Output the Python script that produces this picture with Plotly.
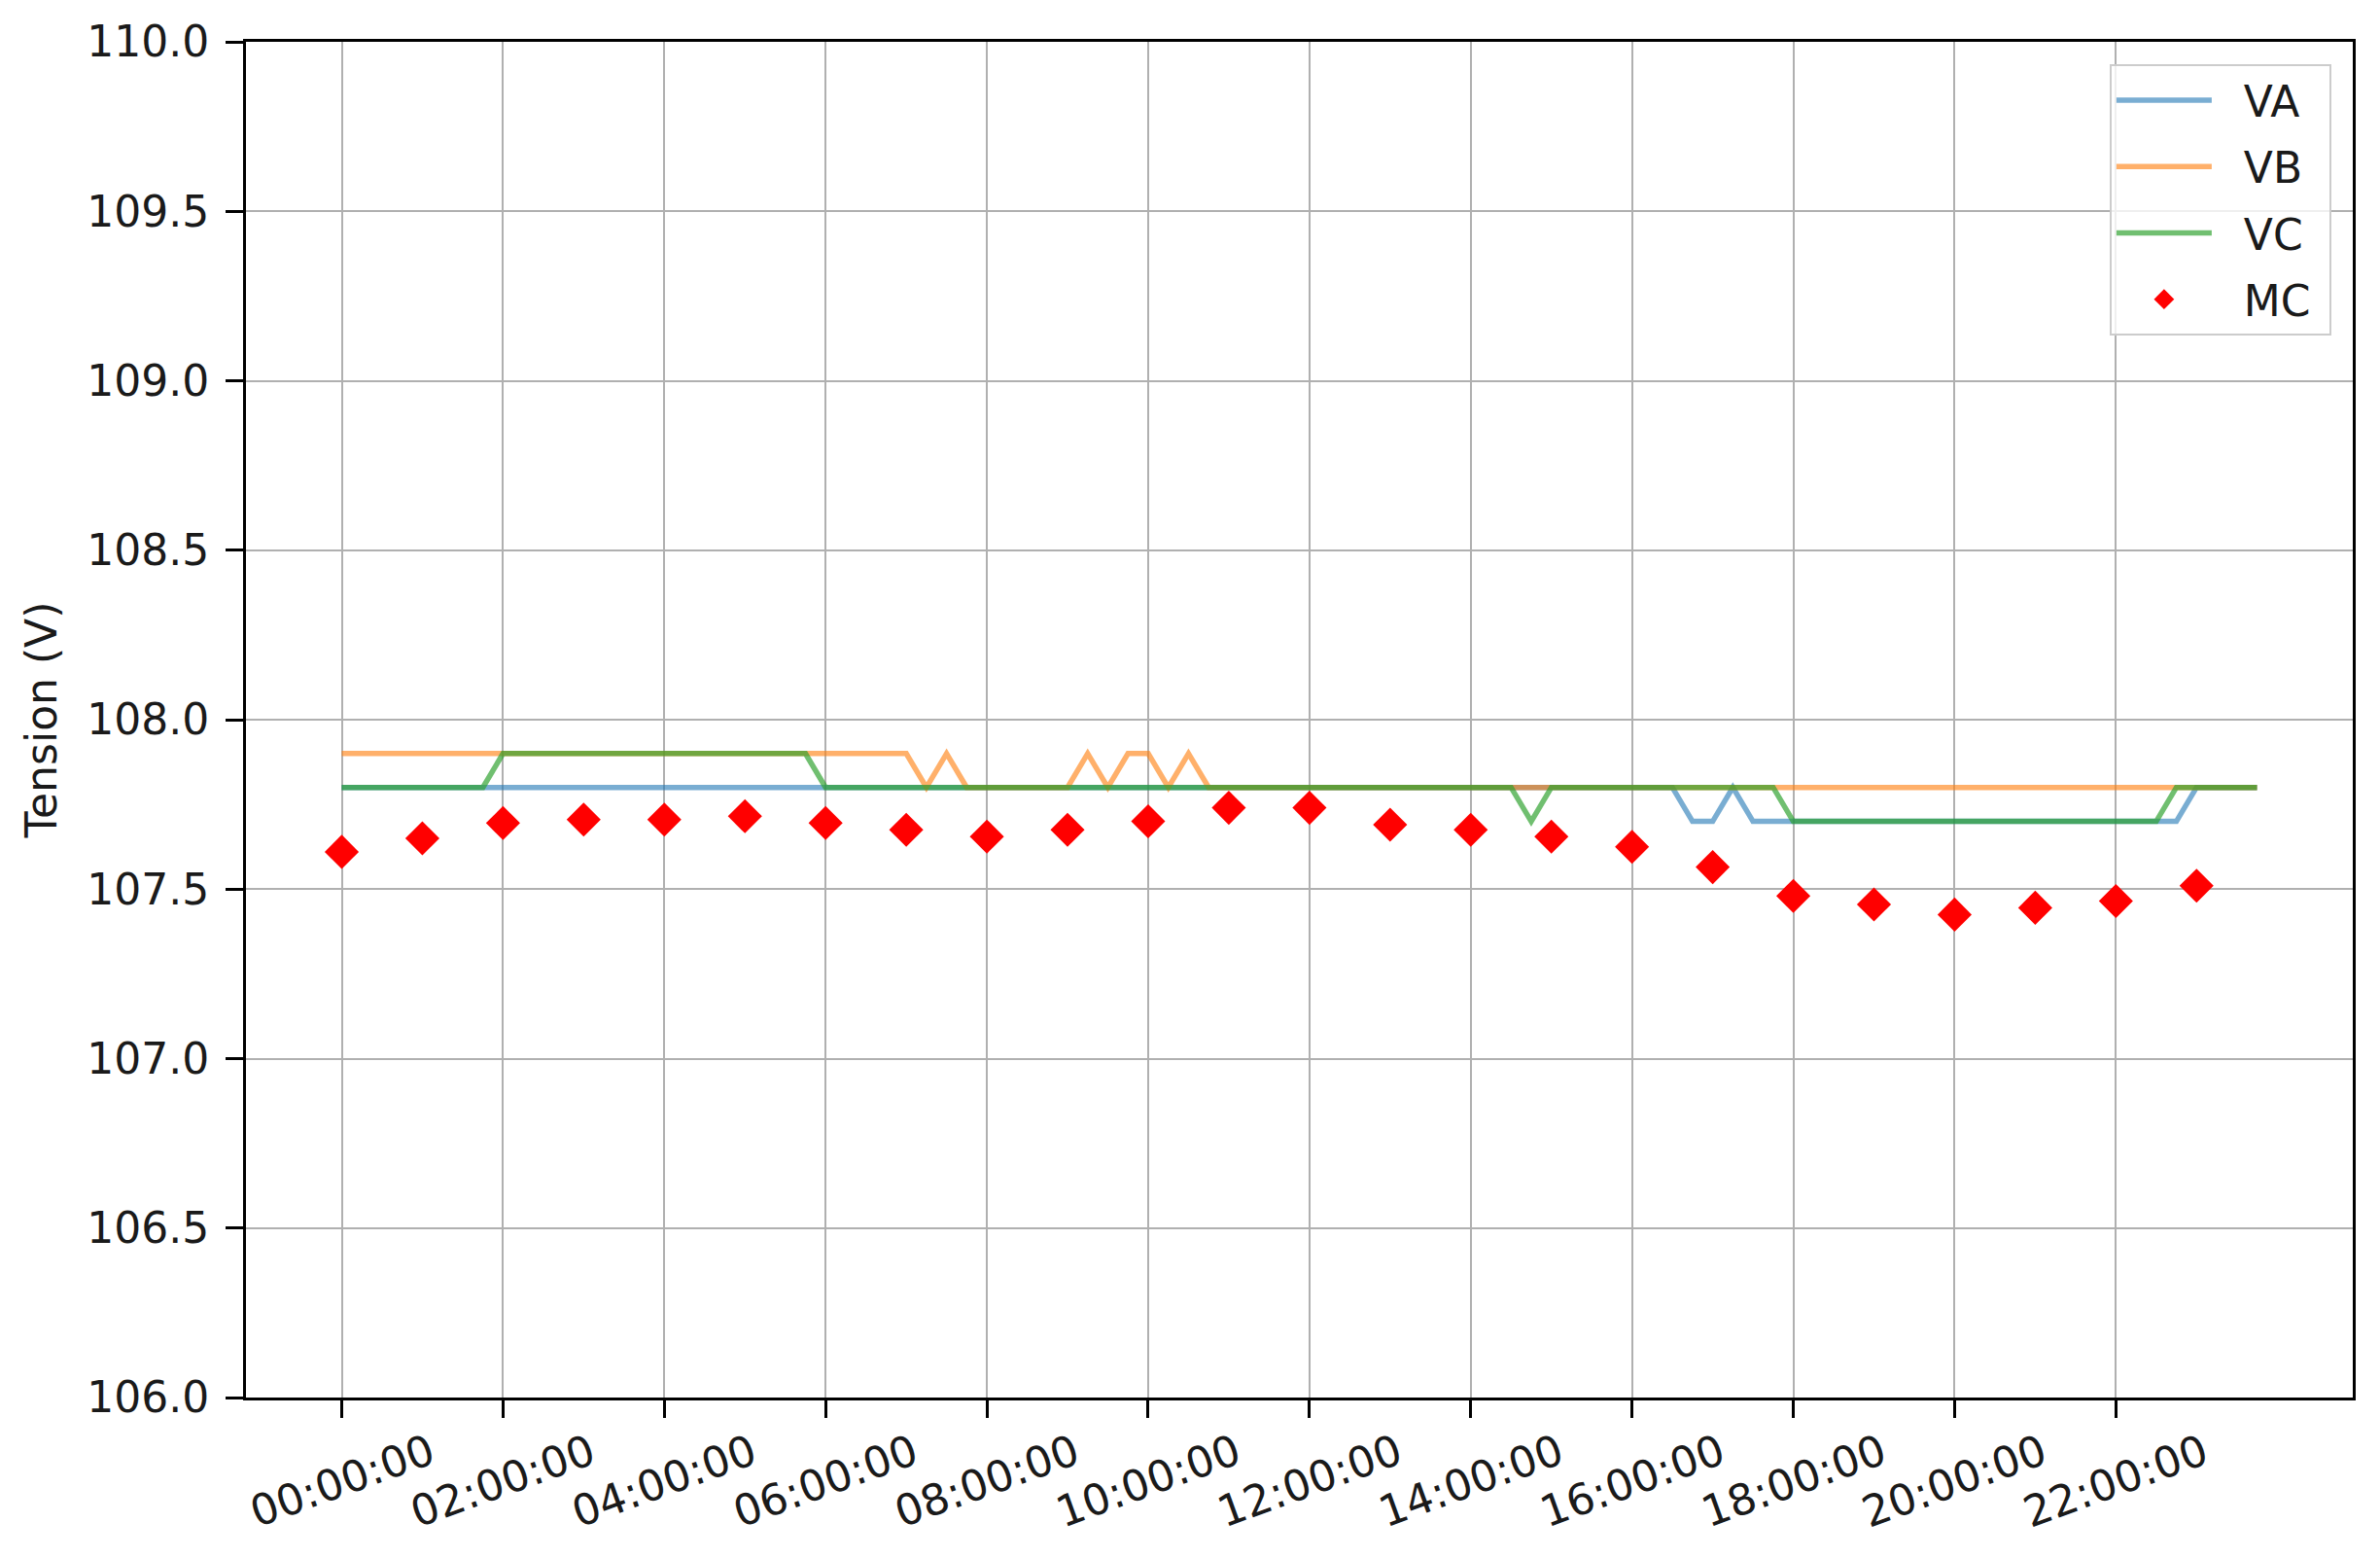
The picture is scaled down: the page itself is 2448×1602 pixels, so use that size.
import plotly.graph_objects as go

DAY = "2024-01-01"

# 15-minute sampling, 00:00 -> 23:45 (96 samples)
TIMES = [f"{h:02d}:{m:02d}:00" for h in range(24) for m in (0, 15, 30, 45)]

VA = (
    [107.8] * 67                      # 00:00 .. 16:30
    + [107.7, 107.7, 107.8]           # 16:45, 17:00, 17:15
    + [107.7] * 22                    # 17:30 .. 22:45
    + [107.8] * 4                     # 23:00 .. 23:45
)
VB = (
    [107.9] * 29                      # 00:00 .. 07:00
    + [107.8, 107.9]                  # 07:15, 07:30
    + [107.8] * 6                     # 07:45 .. 09:00
    + [107.9, 107.8, 107.9, 107.9, 107.8, 107.9]  # 09:15 .. 10:30
    + [107.8] * 53                    # 10:45 .. 23:45
)
VC = (
    [107.8] * 8                       # 00:00 .. 01:45
    + [107.9] * 16                    # 02:00 .. 05:45
    + [107.8] * 35                    # 06:00 .. 14:30
    + [107.7]                         # 14:45
    + [107.8] * 12                    # 15:00 .. 17:45
    + [107.7] * 19                    # 18:00 .. 22:30
    + [107.8] * 5                     # 22:45 .. 23:45
)

MC_TIMES = [f"{h:02d}:00:00" for h in range(24)]
MC = [107.61, 107.65, 107.695, 107.705, 107.705, 107.715, 107.695, 107.675,
      107.655, 107.675, 107.70, 107.74, 107.74, 107.69, 107.675, 107.655,
      107.625, 107.565, 107.48, 107.455, 107.425, 107.445, 107.465, 107.51]

TICK_LABELS = ["00:00:00", "02:00:00", "04:00:00", "06:00:00", "08:00:00",
               "10:00:00", "12:00:00", "14:00:00", "16:00:00", "18:00:00",
               "20:00:00", "22:00:00"]

SERIES = [("VA", VA, "rgba(31,119,180,0.6)"),
          ("VB", VB, "rgba(255,127,14,0.62)"),
          ("VC", VC, "rgba(44,160,44,0.68)")]

x = [f"{DAY} {t}" for t in TIMES]
NB = "\u00a0"

fig = go.Figure()
for name, vals, col in SERIES:
    fig.add_trace(go.Scatter(x=x, y=vals, mode="lines", name=NB * 2 + name + NB,
                             legendgroup=name,
                             line=dict(color=col, width=5.5)))
fig.add_trace(go.Scatter(x=[f"{DAY} {t}" for t in MC_TIMES], y=MC, mode="markers",
                         name=NB * 2 + "MC" + NB, legendgroup="MC",
                         marker=dict(symbol="diamond", color="red", size=27,
                                     line=dict(width=0))))

FONT = "DejaVu Sans"
TXT = "#1a1a1a"
FS = 44

for lab in TICK_LABELS:
    fig.add_annotation(x=f"{DAY} {lab}", xref="x", y=-0.061, yref="paper",
                       text=lab, textangle=-20, showarrow=False,
                       xanchor="center", yanchor="middle",
                       font=dict(family=FONT, size=FS, color=TXT))

fig.update_layout(
    width=2432, height=1586,
    margin=dict(l=245, r=20, t=35, b=157),
    paper_bgcolor="white", plot_bgcolor="white",
    font=dict(family=FONT, size=FS, color=TXT),
    showlegend=True,
    legend=dict(x=0.9898, y=0.9835, xanchor="right", yanchor="top",
                bgcolor="rgba(255,255,255,0.8)", bordercolor="#cccccc",
                borderwidth=2, font=dict(family=FONT, size=FS, color=TXT),
                itemwidth=98, tracegroupgap=8),
)
fig.update_xaxes(
    type="date",
    range=["2023-12-31 22:48:45", "2024-01-02 00:56:15"],
    tickmode="array", tickvals=[f"{DAY} {t}" for t in TICK_LABELS],
    showticklabels=False,
    ticks="outside", ticklen=18, tickwidth=2.5, tickcolor="black",
    showgrid=True, gridcolor="#b0b0b0", gridwidth=2,
    showline=True, linecolor="black", linewidth=3, mirror=True,
    zeroline=False, automargin=False,
)
fig.update_yaxes(
    range=[106, 110], dtick=0.5, tick0=106, tickformat=".1f",
    ticks="outside", ticklen=18, tickwidth=2.5, tickcolor="black",
    ticklabelstandoff=8,
    tickfont=dict(family=FONT, size=FS, color=TXT),
    showgrid=True, gridcolor="#b0b0b0", gridwidth=2,
    showline=True, linecolor="black", linewidth=3, mirror=True,
    zeroline=False, automargin=False,
    title=dict(text="Tension (V)", standoff=17,
               font=dict(family=FONT, size=FS, color=TXT)),
)

fig.write_html("out.html")
